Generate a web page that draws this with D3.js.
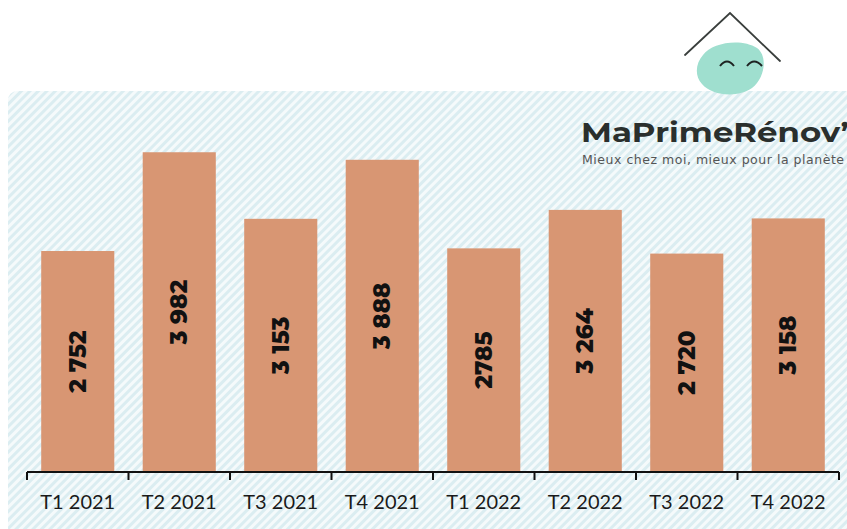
<!DOCTYPE html>
<html><head><meta charset="utf-8">
<script src="https://cdn.jsdelivr.net/npm/d3@7"></script>
<style>body{margin:0;background:#fff}svg{display:block}</style>
</head><body>
<svg id="chart" width="847" height="529"></svg>
<script>
const categories = ["T1 2021","T2 2021","T3 2021","T4 2021","T1 2022","T2 2022","T3 2022","T4 2022"];
const values = [2752, 3982, 3153, 3888, 2785, 3264, 2720, 3158];
const valueLabels = ["2 752","3 982","3 153","3 888","2785","3 264","2 720","3 158"];

const svg = d3.select("#chart");
const defs = svg.append("defs");
const pat = defs.append("pattern").attr("id","hatch").attr("patternUnits","userSpaceOnUse")
  .attr("width",6).attr("height",6).attr("patternTransform","rotate(45)");
pat.append("rect").attr("width",6).attr("height",6).attr("fill","#f5fafb");
pat.append("rect").attr("width",3).attr("height",6).attr("fill","#dbedf1");

// panel
svg.append("rect").attr("x",8).attr("y",91).attr("width",860).attr("height",460)
  .attr("rx",9).attr("fill","url(#hatch)");

const x = d3.scaleBand().domain(categories).range([27,839]).paddingInner(0.28).paddingOuter(0.14);
const y = d3.scaleLinear().domain([0,4000]).range([472,150.8]);

svg.append("g").selectAll("rect").data(values).join("rect")
  .attr("x",(d,i)=>x(categories[i])).attr("width",x.bandwidth())
  .attr("y",d=>y(d)).attr("height",d=>y(0)-y(d))
  .attr("fill","#d89673");

svg.append("g").selectAll("text").data(values).join("text")
  .attr("transform",(d,i)=>`translate(${x(categories[i])+x.bandwidth()/2},${(y(d)+y(0))/2}) rotate(-90)`)
  .attr("text-anchor","middle").attr("dominant-baseline","central")
  .attr("font-family","Montserrat, 'Open Sans', sans-serif").attr("font-weight",800)
  .attr("font-size",23).attr("fill","#111")
  .text((d,i)=>valueLabels[i]);

// axis
const axisG = svg.append("g").attr("transform","translate(0,472)");
const bounds = categories.map(c=>x(c)-x.step()*x.paddingInner()/2).concat([x.range()[1]]);
axisG.append("line").attr("x1",x.range()[0]).attr("x2",x.range()[1]).attr("stroke","#111").attr("stroke-width",2);
axisG.selectAll("line.tk").data(bounds).join("line").attr("class","tk")
  .attr("x1",d=>d).attr("x2",d=>d).attr("y1",0).attr("y2",8).attr("stroke","#111").attr("stroke-width",2);
const xAxis = d3.axisBottom(x).tickSize(0).tickPadding(30);
const ag = svg.append("g").attr("transform","translate(0,472)").call(xAxis);
ag.select(".domain").remove();
ag.selectAll("text").attr("font-family","Lato, 'Noto Sans', sans-serif").attr("font-size",20)
  .attr("fill","#1a1a1a").attr("dy","0").attr("y",37);

// logo
const logo = svg.append("g");
logo.append("path").attr("d","M685,55 L730,13 L780,61").attr("fill","none")
  .attr("stroke","#3a3f3d").attr("stroke-width",1.8).attr("stroke-linecap","round");
logo.append("path")
  .attr("d","M703,55 C712,42 742,38 757,48 C768,56 765,78 752,88 C738,98 712,96 702,84 C694,75 696,63 703,55 Z")
  .attr("fill","#9fdfcf");
logo.append("path").attr("d","M720,66 Q727,57 734,66").attr("fill","none").attr("stroke","#1e2322").attr("stroke-width",2);
logo.append("path").attr("d","M747,66 Q754,57 762,66").attr("fill","none").attr("stroke","#1e2322").attr("stroke-width",2);
logo.append("text").attr("x",581).attr("y",142).attr("font-family","Montserrat, 'Open Sans', sans-serif")
  .attr("font-weight",700).attr("font-size",27).attr("fill","#2a2f2d")
  .attr("textLength",268).attr("lengthAdjust","spacingAndGlyphs").text("MaPrimeRénov’");
logo.append("text").attr("x",582).attr("y",164).attr("font-family","'DejaVu Sans', sans-serif")
  .attr("font-size",12.5).attr("fill","#555")
  .attr("textLength",262).attr("lengthAdjust","spacing").text("Mieux chez moi, mieux pour la planète");
</script>
</body></html>
